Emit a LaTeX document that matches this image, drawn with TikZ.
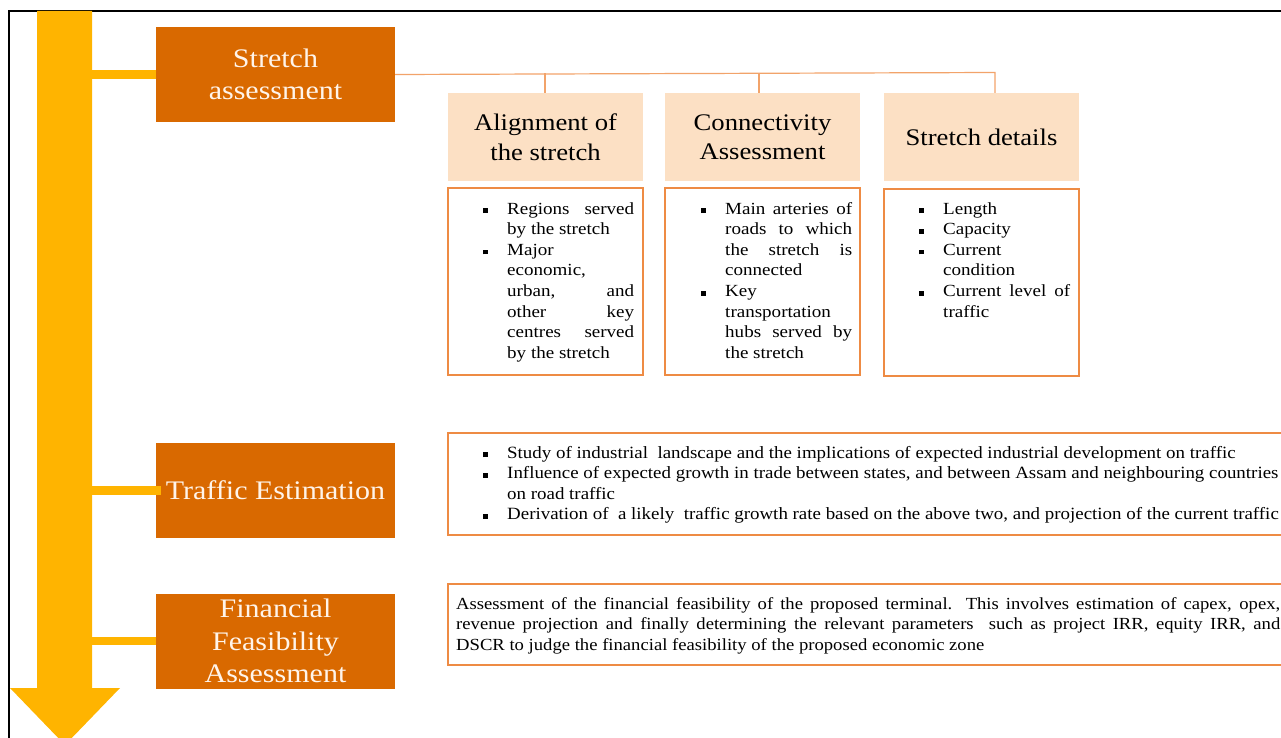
\documentclass[tikz,border=0pt]{standalone}
\usepackage{fontspec}
\setmainfont{Liberation Serif}
\newfontfamily\geo{Liberation Serif}[FakeStretch=1.12]
\newfontfamily\cond{Liberation Serif}[FakeStretch=1.1]
\definecolor{trunk}{HTML}{FFB400}
\definecolor{dorange}{HTML}{D96900}
\definecolor{peach}{HTML}{FCE0C4}
\definecolor{bord}{HTML}{EE8B44}
\definecolor{connc}{HTML}{F2A36A}
\definecolor{otext}{HTML}{FFF4EA}
\newcommand{\jl}[1]{{\spaceskip=0pt\xspaceskip=0pt\makebox[\hsize][s]{#1}}}
\newcommand{\bl}{\leavevmode\llap{\raisebox{0.8pt}{\rule{4.8pt}{4.8pt}}\hspace{19.5pt}}}
\tikzset{
  obox/.style={rectangle, fill=dorange, draw=none, minimum width=239pt, minimum height=95pt,
    inner sep=0pt, text=otext, align=center, font=\geo\fontsize{26.8}{32.5}\selectfont},
  pbox/.style={rectangle, fill=peach, draw=none, minimum width=195pt, minimum height=88pt,
    inner sep=0pt, align=center, font=\geo\fontsize{23.8}{29.5}\selectfont},
  bbox/.style={rectangle, draw=bord, line width=1.3pt, fill=white, minimum width=195pt,
    minimum height=187pt, inner sep=0pt},
  wbox/.style={rectangle, draw=bord, line width=1.3pt, fill=white, inner sep=0pt},
  btext/.style={anchor=base west, inner sep=0pt, text width=127pt, align=justify,
    font=\geo\fontsize{17}{20.6}\selectfont},
  ltext/.style={anchor=base west, inner sep=0pt, align=justify,
    font=\cond\fontsize{17.2}{20.5}\selectfont},
  conn/.style={draw=connc, line width=1.2pt},
  yconn/.style={draw=trunk, line width=8.5pt},
}
\begin{document}
\begin{tikzpicture}[x=1pt,y=-1pt]
\useasboundingbox (0,0) rectangle (1281,738);
% frame
\draw[black, line width=2pt] (9,760) -- (9,11) -- (1300,11);
% trunk arrow
\fill[trunk] (37,11) -- (92,11) -- (92,688) -- (120,688) -- (65,745) -- (10,688) -- (37,688) -- cycle;
\coordinate (y1) at (92,74.5);
\coordinate (y2) at (92,490.5);
\coordinate (y3) at (92,641);

% orange boxes
\node[obox] (sa) at (275.5,74.5) {Stretch\\assessment};
\node[obox] (te) at (275.5,490.5) {Traffic Estimation};
\node[obox] (fa) at (275.5,641) {Financial\\Feasibility\\Assessment};

\draw[yconn] (y1) -- (sa.west);
\draw[yconn] (y3) -- (fa.west);

% peach headers
\node[pbox] (al) at (545.5,137) {Alignment of\\the stretch};
\node[pbox] (co) at (762.5,137) {Connectivity\\Assessment};
\node[pbox] (sd) at (981.5,137) {Stretch details};

% connectors
\coordinate (t1) at (545,73.5);
\coordinate (t2) at (759,73);
\coordinate (t3) at (995,72.5);
\draw[conn] (sa.east) -- (t3) -- (sd.north -| t3);
\draw[conn] (t1) -- (al.north -| t1);
\draw[conn] (t2) -- (co.north -| t2);

% bullet boxes
\node[bbox] (b1) at (545.5,281.5) {};
\node[bbox] (b2) at (762.5,281.5) {};
\node[bbox] (b3) at (981.5,282.5) {};

\node[btext] (b1t) at (507,214) {\bl\jl{Regions served}\\
by the stretch\\
\bl Major\\
economic,\\
\jl{urban, and}\\
\jl{other key}\\
\jl{centres served}\\
by the stretch};

\node[btext] (b2t) at (725,214) {\bl\jl{Main arteries of}\\
\jl{roads to which}\\
\jl{the stretch is}\\
connected\\
\bl Key\\
transportation\\
\jl{hubs served by}\\
the stretch};

\node[btext] (b3t) at (943,214) {\bl Length\\
\bl Capacity\\
\bl Current\\
condition\\
\bl\jl{Current level of}\\
traffic};

% traffic box
\node[wbox, minimum width=850pt, minimum height=102pt] (tb) at (873,484) {};
\node[ltext, text width=900pt] (tbt) at (507,458) {\bl Study of industrial\ \ landscape and the implications of expected industrial development on traffic\\
\bl Influence of expected growth in trade between states, and between Assam and neighbouring countries\\
on road traffic\\
\bl Derivation of\ \ a likely\ \ traffic growth rate based on the above two, and projection of the current traffic};
\draw[yconn] (y2) -- ([xshift=5pt]te.west);

% financial box
\node[wbox, minimum width=850pt, minimum height=81pt] (fb) at (873,624.5) {};
\node[ltext, text width=824pt, font=\cond\fontsize{16.95}{20.5}\selectfont] (fbt) at (456,609) {\jl{Assessment of the financial feasibility of the proposed terminal. This involves estimation of capex, opex,}\\
\jl{revenue projection and finally determining the relevant parameters\ \ such as project IRR, equity IRR, and}\\
DSCR to judge the financial feasibility of the proposed economic zone};
\end{tikzpicture}
\end{document}
